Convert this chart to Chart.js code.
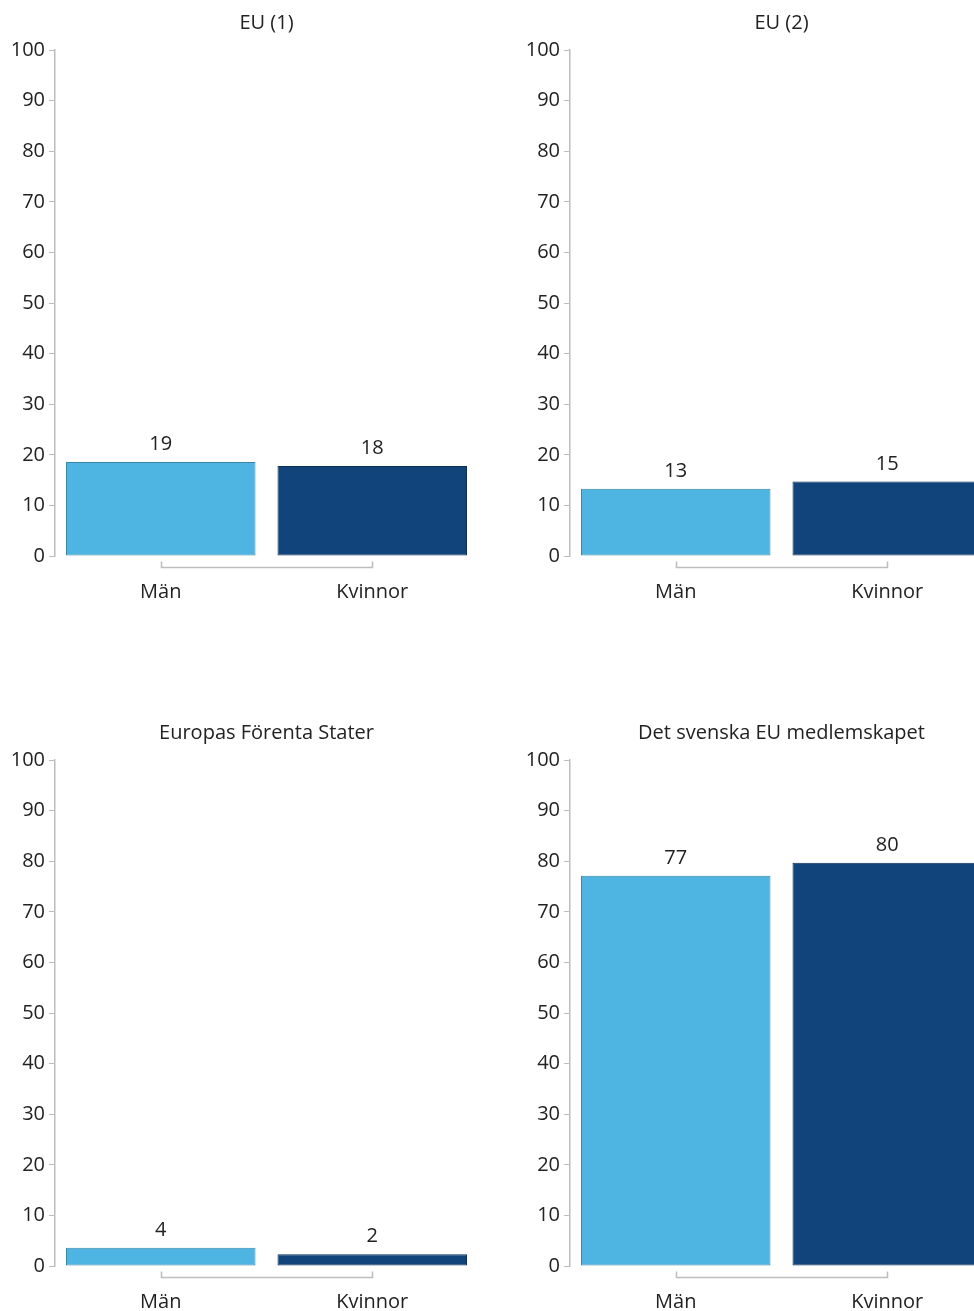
<!DOCTYPE html>
<html>
<head>
<meta charset="utf-8">
<script src="https://cdn.jsdelivr.net/npm/chart.js@4/dist/chart.umd.min.js"></script>
<style>
  html, body { margin: 0; padding: 0; background: #fff; }
  #wrap { position: relative; width: 974px; height: 1311px; overflow: hidden; background: #fff; }
  canvas { position: absolute; }
</style>
</head>
<body>
<div id="wrap">
  <canvas id="c1" width="490" height="620" style="left:0px;top:0px;width:490px;height:620px"></canvas>
  <canvas id="c2" width="490" height="620" style="left:515px;top:0px;width:490px;height:620px"></canvas>
  <canvas id="c3" width="490" height="620" style="left:0px;top:710px;width:490px;height:620px"></canvas>
  <canvas id="c4" width="490" height="620" style="left:515px;top:710px;width:490px;height:620px"></canvas>
</div>
<script>
// ---- data ----
const categories = ['Män', 'Kvinnor'];
const panelTitles = ['EU (1)', 'EU (2)', 'Europas Förenta Stater', 'Det svenska EU medlemskapet'];
const eu1Values = [18.6, 17.8];
const eu2Values = [13.3, 14.7];
const efsValues = [3.6, 2.3];
const svEuValues = [77.1, 79.7];
const yMin = 0, yMax = 100, yStep = 10;

const barColors = ['#4EB5E3', '#11447B'];
const barBorders = ['#3B86A8', '#0B2F57'];
const FONT = "'Open Sans', 'DejaVu Sans', sans-serif";
const TEXT = '#222222';
const AXIS = '#BDBDBD';

const labelsAndBracket = {
  id: 'labelsAndBracket',
  afterDatasetsDraw(chart) {
    const ctx = chart.ctx;
    const meta = chart.getDatasetMeta(0);
    const ds = chart.data.datasets[0];
    ctx.save();
    ctx.font = '20px ' + FONT;
    ctx.fillStyle = TEXT;
    ctx.textAlign = 'center';
    ctx.textBaseline = 'alphabetic';
    meta.data.forEach((bar, i) => {
      ctx.fillText(String(Math.round(ds.data[i])), bar.x, bar.y - 12);
    });
    // bracket under categories
    const xs = chart.scales.x;
    const x0 = Math.round(xs.getPixelForValue(0)) + 0.5;
    const x1 = Math.round(xs.getPixelForValue(categories.length - 1)) + 0.5;
    const y = Math.round(chart.chartArea.bottom + 11) + 0.5;
    ctx.strokeStyle = AXIS;
    ctx.lineWidth = 1.5;
    ctx.beginPath();
    ctx.moveTo(x0, y - 6);
    ctx.lineTo(x0, y);
    ctx.lineTo(x1, y);
    ctx.lineTo(x1, y - 6);
    ctx.stroke();
    ctx.restore();
  }
};

function makeChart(id, title, values) {
  return new Chart(document.getElementById(id), {
    type: 'bar',
    data: {
      labels: categories,
      datasets: [{
        data: values,
        backgroundColor: barColors,
        borderColor: barBorders,
        borderWidth: 1,
        borderSkipped: false,
        categoryPercentage: 1.0,
        barPercentage: 0.896
      }]
    },
    options: {
      responsive: false,
      animation: false,
      devicePixelRatio: 1,
      layout: { padding: { left: 0, right: 12, top: 0, bottom: 0 } },
      plugins: {
        legend: { display: false },
        tooltip: { enabled: false },
        title: {
          display: true,
          text: title,
          fullSize: false,
          color: TEXT,
          font: { family: FONT, size: 20, weight: 'normal', lineHeight: 1.2 },
          padding: { top: 11, bottom: 15 }
        }
      },
      scales: {
        x: {
          grid: { display: false, drawTicks: false },
          border: { display: false },
          ticks: { color: TEXT, font: { family: FONT, size: 20 }, padding: 24 },
          afterFit(scale) { scale.height = 64; }
        },
        y: {
          min: yMin, max: yMax,
          ticks: { stepSize: yStep, color: TEXT, font: { family: FONT, size: 20 }, padding: 4 },
          grid: { drawOnChartArea: false, drawTicks: true, tickLength: 6, color: AXIS, lineWidth: 1 },
          border: { display: true, color: AXIS, width: 1.5 },
          afterFit(scale) { scale.width = 55; }
        }
      }
    },
    plugins: [labelsAndBracket]
  });
}

makeChart('c1', panelTitles[0], eu1Values);
makeChart('c2', panelTitles[1], eu2Values);
makeChart('c3', panelTitles[2], efsValues);
makeChart('c4', panelTitles[3], svEuValues);
</script>
</body>
</html>
